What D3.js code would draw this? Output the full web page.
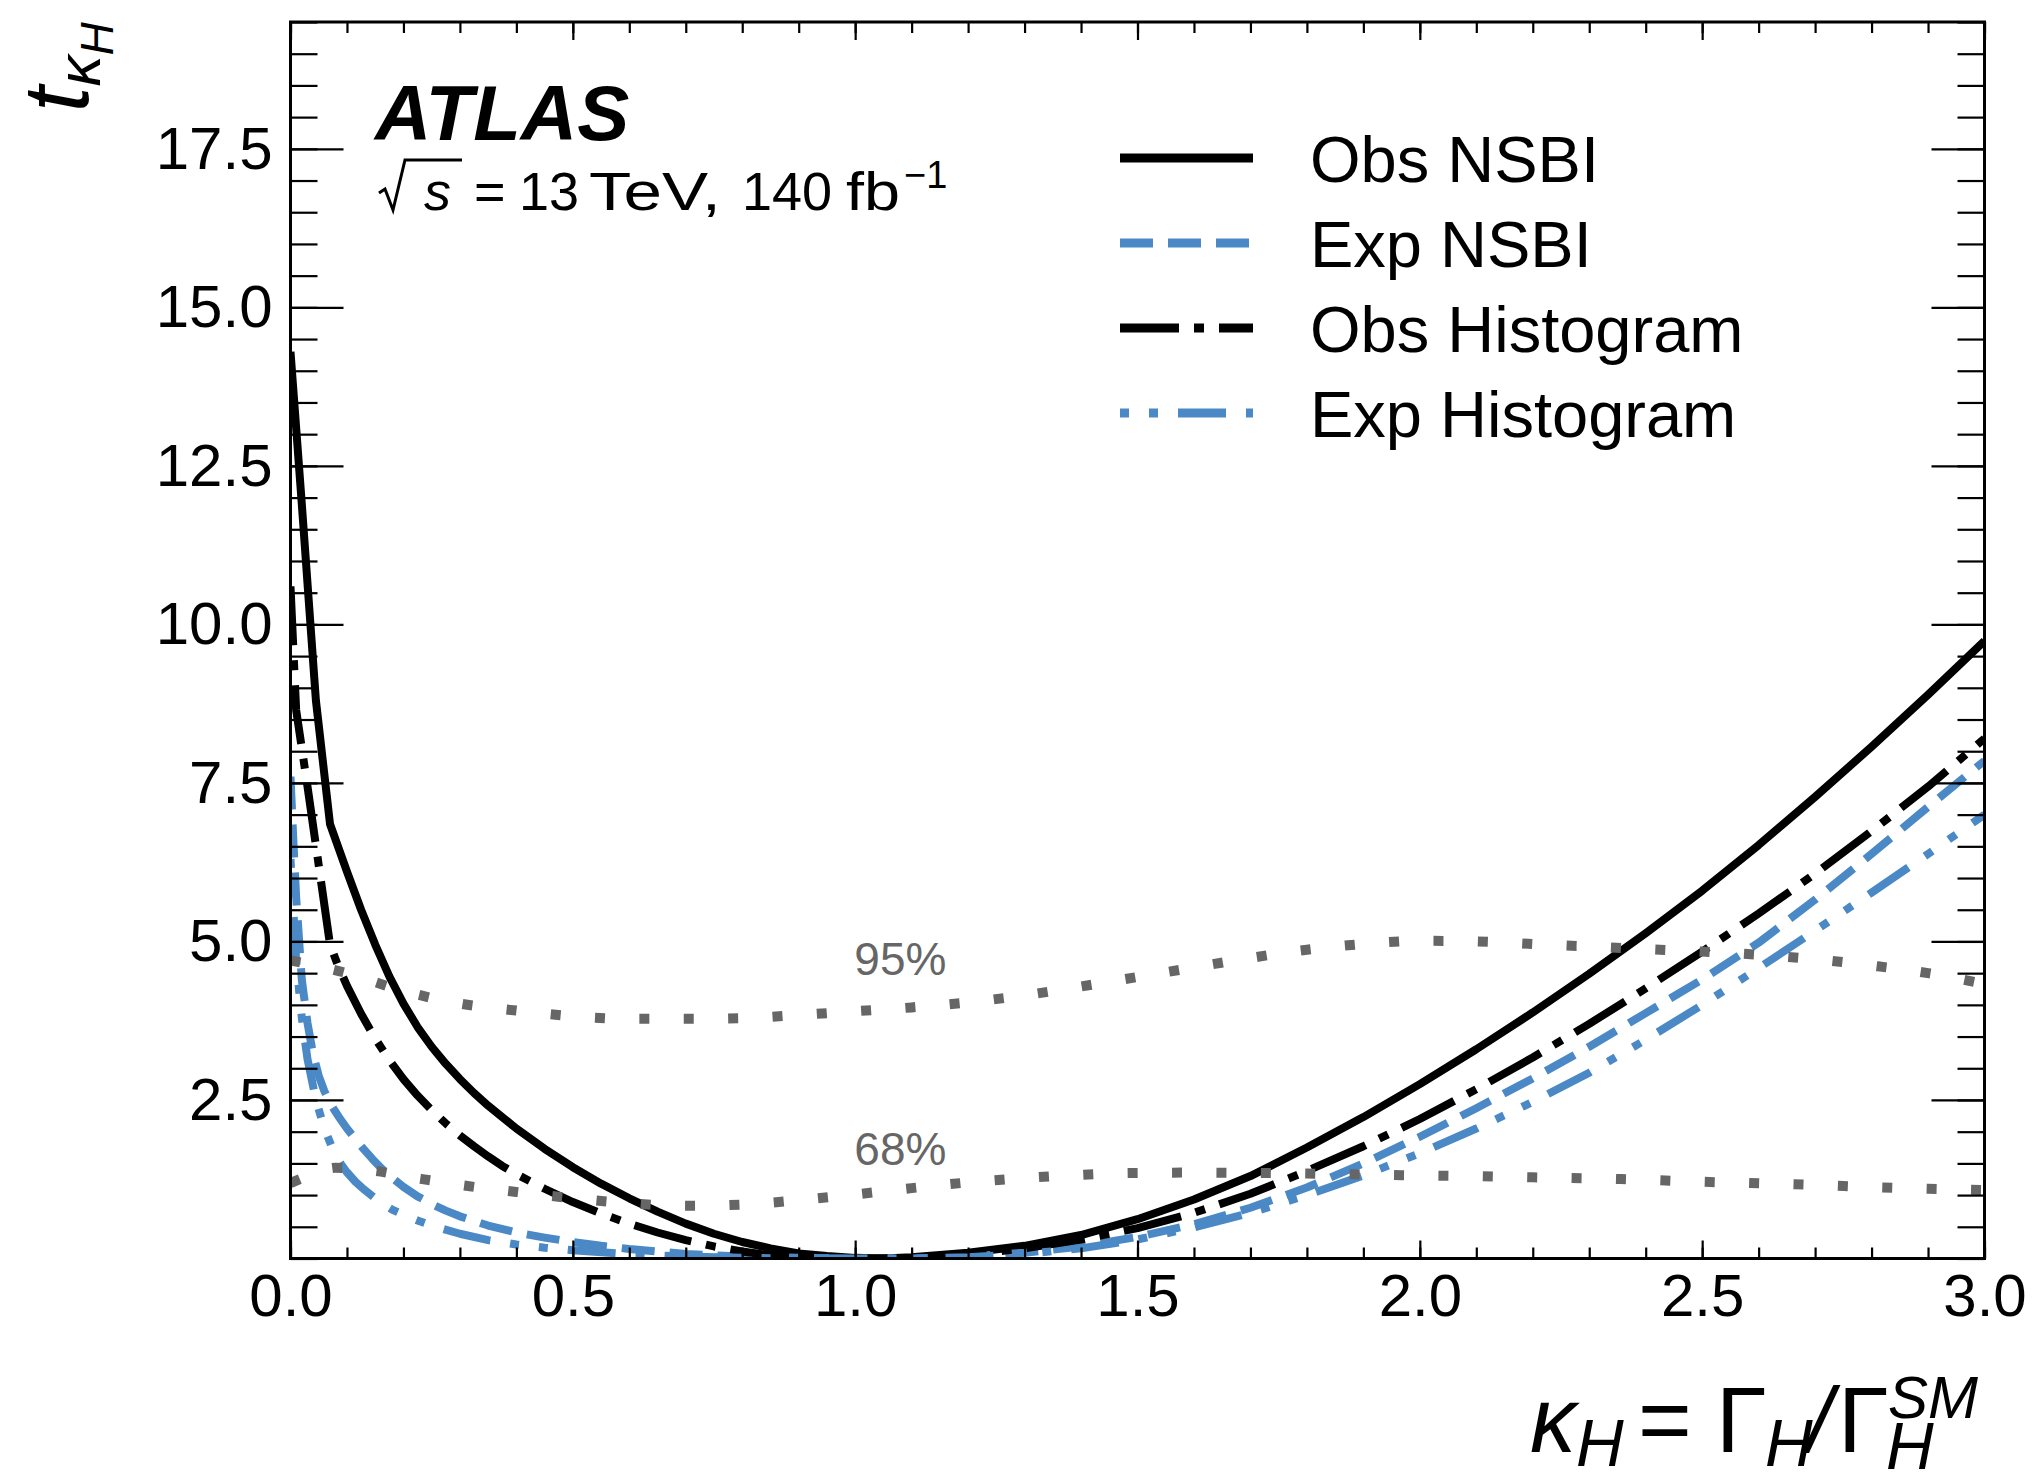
<!DOCTYPE html>
<html>

<head>
    <meta charset="utf-8">
    <style>
        body {
            margin: 0;
            background: white;
        }

        svg {
            font-family: 'Liberation Sans', Arial, Helvetica, sans-serif;
        }
    </style>
</head>

<body>
    <svg id="chart" width="2034" height="1473"></svg>
</body>

<script src="https://d3js.org/d3.v7.min.js"></script>

<script>
    // values, [kappa_H, t]
    const obsNSBI = [[0, 14.3], [0.02, 11.9], [0.045, 8.8], [0.07, 6.85], [0.1, 6.1], [0.125, 5.5], [0.15, 4.95],
    [0.175, 4.45], [0.2, 4.02], [0.225, 3.65], [0.25, 3.34], [0.275, 3.07], [0.3, 2.83], [0.325, 2.61],
    [0.35, 2.41], [0.375, 2.23], [0.4, 2.05], [0.45, 1.73], [0.5, 1.44], [0.55, 1.18], [0.6, 0.95], [0.65, 0.74],
    [0.7, 0.55], [0.75, 0.39], [0.8, 0.26], [0.85, 0.16], [0.9, 0.08], [0.95, 0.04], [1.0, 0.01], [1.05, 0],
    [1.1, 0.02], [1.2, 0.09], [1.3, 0.2], [1.4, 0.37], [1.5, 0.62], [1.6, 0.93], [1.7, 1.3], [1.8, 1.75],
    [1.9, 2.23], [2.0, 2.75], [2.1, 3.3], [2.2, 3.88], [2.3, 4.49], [2.4, 5.13], [2.5, 5.8], [2.6, 6.52],
    [2.7, 7.28], [2.8, 8.07], [2.9, 8.89], [3.0, 9.74]];

    const expNSBI = [[0, 7.6], [0.005, 6.6], [0.01, 5.7], [0.02, 4.4], [0.03, 3.72], [0.04, 3.22], [0.05, 2.88],
    [0.06, 2.64], [0.07, 2.45], [0.085, 2.24], [0.1, 2.05], [0.115, 1.88], [0.13, 1.72], [0.145, 1.57],
    [0.16, 1.43], [0.18, 1.27], [0.2, 1.13], [0.225, 0.98], [0.25, 0.86], [0.275, 0.755], [0.3, 0.665],
    [0.35, 0.52], [0.4, 0.41], [0.45, 0.33], [0.5, 0.26], [0.55, 0.2], [0.6, 0.15], [0.65, 0.11], [0.7, 0.07],
    [0.8, 0.03], [0.9, 0.01], [1.0, 0], [1.1, 0], [1.2, 0.03], [1.3, 0.09], [1.4, 0.19], [1.5, 0.34], [1.6, 0.54],
    [1.7, 0.8], [1.8, 1.12], [1.9, 1.5], [2.0, 1.92], [2.1, 2.37], [2.2, 2.84], [2.3, 3.34], [2.4, 3.87],
    [2.5, 4.4], [2.6, 4.98], [2.7, 5.66], [2.8, 6.38], [2.9, 7.12], [3.0, 7.85]];

    const obsHist = [[0, 10.6], [0.01, 8.65], [0.03, 7.45], [0.05, 6.2], [0.07, 4.95], [0.085, 4.6], [0.1, 4.3],
    [0.125, 3.86], [0.15, 3.47], [0.175, 3.13], [0.2, 2.83], [0.225, 2.57], [0.25, 2.34], [0.275, 2.13],
    [0.3, 1.94], [0.325, 1.77], [0.35, 1.61], [0.375, 1.46], [0.4, 1.33], [0.45, 1.1], [0.5, 0.89], [0.55, 0.71],
    [0.6, 0.55], [0.65, 0.41], [0.7, 0.29], [0.75, 0.19], [0.8, 0.11], [0.85, 0.05], [0.9, 0.02], [0.95, 0.005],
    [1.0, 0], [1.1, 0.01], [1.2, 0.06], [1.3, 0.16], [1.4, 0.3], [1.5, 0.48], [1.6, 0.72], [1.7, 1.02],
    [1.8, 1.38], [1.9, 1.77], [2.0, 2.2], [2.1, 2.67], [2.2, 3.17], [2.3, 3.7], [2.4, 4.26], [2.5, 4.84],
    [2.6, 5.44], [2.7, 6.07], [2.8, 6.74], [2.9, 7.44], [3.0, 8.2]];

    const expHist = [[0, 6.3], [0.01, 4.7], [0.02, 3.8], [0.03, 3.15], [0.045, 2.5], [0.06, 2.05], [0.075, 1.72],
    [0.09, 1.48], [0.1, 1.36], [0.115, 1.21], [0.13, 1.09], [0.16, 0.88], [0.18, 0.77], [0.2, 0.69], [0.225, 0.6],
    [0.25, 0.52], [0.3, 0.39], [0.35, 0.29], [0.4, 0.22], [0.45, 0.17], [0.5, 0.13], [0.6, 0.07], [0.7, 0.03],
    [0.8, 0.01], [0.9, 0], [1.0, 0], [1.1, 0], [1.2, 0.02], [1.3, 0.07], [1.4, 0.16], [1.5, 0.3], [1.6, 0.49],
    [1.7, 0.72], [1.8, 1.0], [1.9, 1.31], [2.0, 1.66], [2.1, 2.05], [2.2, 2.47], [2.3, 2.93], [2.4, 3.45],
    [2.5, 4.0], [2.6, 4.58], [2.7, 5.17], [2.8, 5.77], [2.9, 6.38], [3.0, 7.0]];

    // confidence level thresholds (grey dotted)
    const cl95 = [[0, 4.7], [0.1, 4.5], [0.2, 4.22], [0.3, 4.02], [0.4, 3.91], [0.5, 3.82], [0.6, 3.78], [0.7, 3.78],
    [0.8, 3.79], [0.9, 3.84], [1.0, 3.9], [1.1, 3.96], [1.2, 4.04], [1.3, 4.15], [1.4, 4.29], [1.5, 4.44],
    [1.6, 4.59], [1.7, 4.74], [1.8, 4.87], [1.9, 4.96], [2.0, 5.01], [2.1, 5.0], [2.2, 4.96], [2.3, 4.92],
    [2.4, 4.88], [2.5, 4.84], [2.6, 4.79], [2.7, 4.72], [2.8, 4.62], [2.9, 4.5], [3.0, 4.33]];

    const cl68 = [[0, 1.19], [0.04, 1.33], [0.08, 1.43], [0.12, 1.41], [0.16, 1.37], [0.2, 1.3], [0.25, 1.23],
    [0.3, 1.16], [0.4, 1.05], [0.5, 0.95], [0.6, 0.87], [0.7, 0.83], [0.8, 0.85], [0.9, 0.92], [1.0, 1.01],
    [1.1, 1.11], [1.2, 1.2], [1.3, 1.27], [1.4, 1.32], [1.5, 1.35], [1.6, 1.355], [1.7, 1.35], [1.8, 1.34],
    [1.9, 1.325], [2.0, 1.31], [2.1, 1.3], [2.2, 1.28], [2.3, 1.265], [2.4, 1.24], [2.5, 1.21], [2.6, 1.185],
    [2.7, 1.16], [2.8, 1.125], [2.9, 1.1], [3.0, 1.08]];

    const legendNames = ["Obs NSBI", "Exp NSBI", "Obs Histogram", "Exp Histogram"];
    const xTicks = [0, 0.5, 1.0, 1.5, 2.0, 2.5, 3.0];
    const yTicks = [2.5, 5.0, 7.5, 10.0, 12.5, 15.0, 17.5];
    const clLabels = [{ text: "95%", k: 1.08, t: 4.47 }, { text: "68%", k: 1.08, t: 1.47 }];

    const plotLeft = 290.5, plotRight = 1984.5, plotTop = 22, plotBottom = 1258.5;

    let svg = d3.select("#chart");

    let x = d3.scaleLinear().domain([0, 3]).range([plotLeft, plotRight]);
    let y = d3.scaleLinear().domain([0, 19.5]).range([plotBottom, plotTop]);

    let xMinor = d3.range(0, 31).map(d => d / 10);
    let yMinor = d3.range(0, 40).map(d => d / 2);

    // styles per curve
    let series = [
        { data: obsNSBI, color: "#000", dash: null },
        { data: expNSBI, color: "#4a89c5", dash: "33,15" },
        { data: obsHist, color: "#000", dash: "59,15,10,15" },
        { data: expHist, color: "#4a89c5", dash: "9,20,9,20,48,20" }
    ];

    svg.append("clipPath").attr("id", "plotclip")
        .append("rect")
        .attr("x", plotLeft).attr("y", plotTop)
        .attr("width", plotRight - plotLeft).attr("height", plotBottom - plotTop);

    let line = d3.line()
        .x(d => x(d[0]))
        .y(d => y(d[1]));

    let smoothLine = d3.line()
        .x(d => x(d[0]))
        .y(d => y(d[1]))
        .curve(d3.curveMonotoneX);

    let curves = svg.append("g").attr("clip-path", "url(#plotclip)");

    curves.selectAll(".curve")
        .data(series)
        .join("path")
        .attr("class", "curve")
        .attr("d", d => line(d.data))
        .style("fill", "none")
        .style("stroke", d => d.color)
        .style("stroke-width", 8)
        .style("stroke-linejoin", "round")
        .style("stroke-dasharray", d => d.dash);

    curves.selectAll(".cl")
        .data([cl95, cl68])
        .join("path")
        .attr("class", "cl")
        .attr("d", smoothLine)
        .style("fill", "none")
        .style("stroke", "#666")
        .style("stroke-width", 10)
        .style("stroke-dasharray", "10,34.4");

    svg.selectAll(".cllabel")
        .data(clLabels)
        .join("text")
        .attr("class", "cllabel")
        .attr("x", d => x(d.k))
        .attr("y", d => y(d.t))
        .attr("text-anchor", "middle")
        .style("font-size", "46px")
        .style("fill", "#666")
        .text(d => d.text);

    // axes, ticks pointing inwards
    function styleAxis(g) {
        g.select(".domain").remove();
        g.selectAll("line").attr("stroke", "#000").attr("stroke-width", 2.2);
        g.selectAll("text")
            .attr("font-size", 60)
            .attr("font-family", "'Liberation Sans', Arial, Helvetica, sans-serif")
            .attr("fill", "#000");
    }

    svg.append("g")
        .attr("transform", `translate(0,${plotBottom})`)
        .call(d3.axisBottom(x).tickValues(xMinor).tickSize(-11).tickFormat(""))
        .call(styleAxis);
    svg.append("g")
        .attr("transform", `translate(0,${plotBottom})`)
        .call(d3.axisBottom(x).tickValues(xTicks).tickSize(-18).tickPadding(15).tickFormat(d3.format(".1f")))
        .call(styleAxis);
    svg.append("g")
        .attr("transform", `translate(0,${plotTop})`)
        .call(d3.axisTop(x).tickValues(xMinor).tickSize(-11).tickFormat(""))
        .call(styleAxis);
    svg.append("g")
        .attr("transform", `translate(0,${plotTop})`)
        .call(d3.axisTop(x).tickValues(xTicks).tickSize(-18).tickFormat(""))
        .call(styleAxis);

    svg.append("g")
        .attr("transform", `translate(${plotLeft},0)`)
        .call(d3.axisLeft(y).tickValues(yMinor).tickSize(-27).tickFormat(""))
        .call(styleAxis);
    svg.append("g")
        .attr("transform", `translate(${plotLeft},0)`)
        .call(d3.axisLeft(y).tickValues(yTicks).tickSize(-53).tickPadding(18).tickFormat(d3.format(".1f")))
        .call(styleAxis);
    svg.append("g")
        .attr("transform", `translate(${plotRight},0)`)
        .call(d3.axisRight(y).tickValues(yMinor).tickSize(-27).tickFormat(""))
        .call(styleAxis);
    svg.append("g")
        .attr("transform", `translate(${plotRight},0)`)
        .call(d3.axisRight(y).tickValues(yTicks).tickSize(-53).tickFormat(""))
        .call(styleAxis);

    svg.append("rect")
        .attr("x", plotLeft).attr("y", plotTop)
        .attr("width", plotRight - plotLeft).attr("height", plotBottom - plotTop)
        .style("fill", "none")
        .style("stroke", "#000")
        .style("stroke-width", 3);

    // legend
    let legend = svg.append("g");
    let rowY = d3.scalePoint().domain(legendNames).range([158, 413]);

    legend.selectAll(".legline")
        .data(series)
        .join("line")
        .attr("class", "legline")
        .attr("x1", 1120).attr("x2", 1253)
        .attr("y1", (d, i) => rowY(legendNames[i]))
        .attr("y2", (d, i) => rowY(legendNames[i]))
        .style("stroke", d => d.color)
        .style("stroke-width", 9)
        .style("stroke-dasharray", d => d.dash);

    legend.selectAll(".legtext")
        .data(legendNames)
        .join("text")
        .attr("class", "legtext")
        .attr("x", 1310)
        .attr("y", d => rowY(d) + 24)
        .style("font-size", "65px")
        .text(d => d);

    // ATLAS label
    svg.append("text")
        .attr("x", 375).attr("y", 140)
        .style("font-size", "78px")
        .style("font-weight", "bold")
        .style("font-style", "italic")
        .text("ATLAS");

    // sqrt(s) with a drawn radical sign
    svg.append("path")
        .attr("d", "M379,193 L385,189 L393,210 L405,160 L462,160")
        .style("fill", "none")
        .style("stroke", "#000")
        .style("stroke-width", 3);

    let energy = svg.append("text").attr("y", 210).style("font-size", "54px");
    energy.append("tspan").attr("x", 424).style("font-style", "italic").text("s");
    energy.append("tspan").attr("x", 474).text("=");
    energy.append("tspan").attr("x", 519).text("13");
    energy.append("tspan").attr("x", 589).attr("textLength", 132).attr("lengthAdjust", "spacingAndGlyphs").text("TeV,");
    energy.append("tspan").attr("x", 742).text("140");
    energy.append("tspan").attr("x", 846).attr("textLength", 54).attr("lengthAdjust", "spacingAndGlyphs").text("fb");
    energy.append("tspan").attr("x", 904).attr("dy", -22).style("font-size", "38px").text("\u22121");

    // x axis title
    let xt = svg.append("text").style("font-size", "92px");
    xt.append("tspan").attr("x", 1530).attr("y", 1452).style("font-style", "italic").text("\u03BA");
    xt.append("tspan").attr("x", 1576).attr("y", 1466).style("font-style", "italic").style("font-size", "66px").text("H");
    xt.append("tspan").attr("x", 1638).attr("y", 1452).text("=");
    xt.append("tspan").attr("x", 1716).attr("y", 1452).text("\u0393");
    xt.append("tspan").attr("x", 1765).attr("y", 1466).style("font-style", "italic").style("font-size", "66px").text("H");
    xt.append("tspan").attr("x", 1807).attr("y", 1452).style("font-style", "italic").text("/");
    xt.append("tspan").attr("x", 1838).attr("y", 1452).text("\u0393");
    xt.append("tspan").attr("x", 1888).attr("y", 1418).style("font-style", "italic").style("font-size", "60px").text("SM");
    xt.append("tspan").attr("x", 1886).attr("y", 1469).style("font-style", "italic").style("font-size", "66px").text("H");

    // y axis title
    let yt = svg.append("text")
        .attr("transform", "translate(88,112) rotate(-90)")
        .style("font-style", "italic");
    yt.append("tspan").style("font-size", "92px").text("t");
    yt.append("tspan").attr("dy", 12).style("font-size", "62px").text("\u03BA");
    yt.append("tspan").attr("dy", 13).style("font-size", "46px").text("H");
</script>

</html>
